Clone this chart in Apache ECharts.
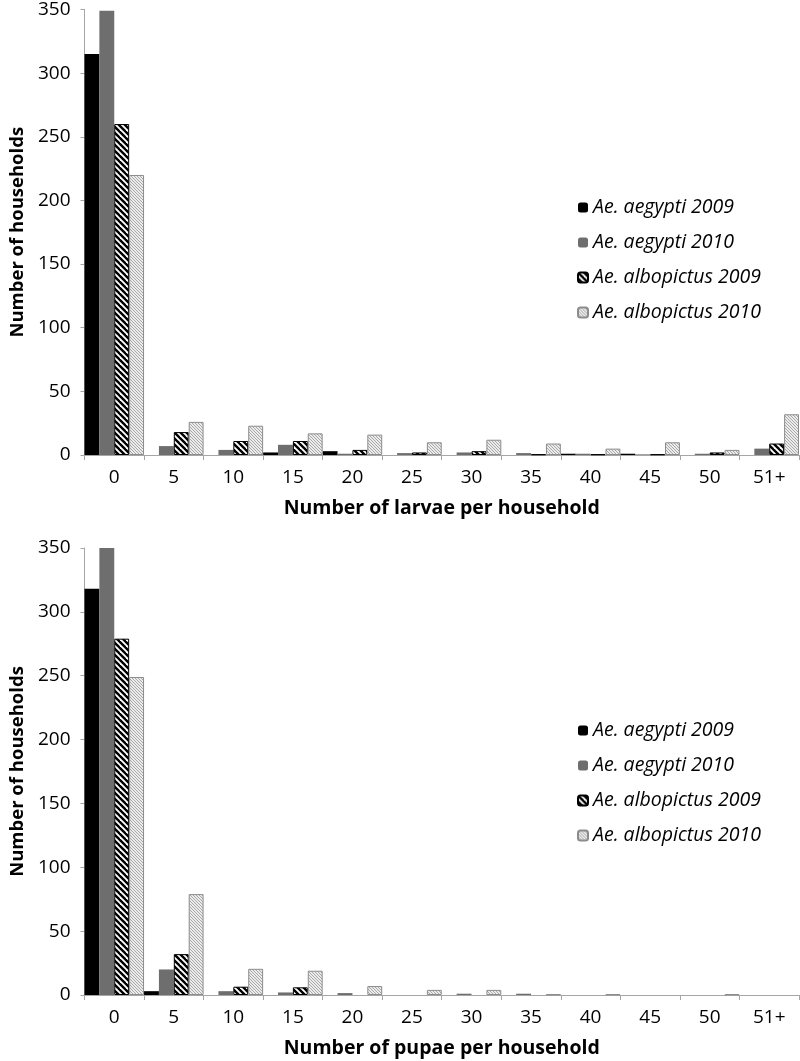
<!DOCTYPE html>
<html>
<head>
<meta charset="utf-8">
<script src="https://cdn.jsdelivr.net/npm/echarts@6/dist/echarts.min.js"></script>
<style>
html,body{margin:0;padding:0;background:#fff;}
#chart{width:800px;height:1061px;}
</style>
</head>
<body>
<div id="chart"></div>
<script>
// ---- data ----
const categories = ['0','5','10','15','20','25','30','35','40','45','50','51+'];
const seriesNames = ['Ae. aegypti 2009','Ae. aegypti 2010','Ae. albopictus 2009','Ae. albopictus 2010'];
const larvaeAegypti2009    = [315, 0, 0, 2, 3, 0, 0, 0, 1, 1, 0, 0];
const larvaeAegypti2010    = [349, 7, 4, 8, 1, 1.5, 2, 1.5, 1, 0.5, 1, 5];
const larvaeAlbopictus2009 = [260, 18, 11, 11, 4, 2, 3, 0.5, 0.5, 0.5, 2, 9];
const larvaeAlbopictus2010 = [220, 26, 23, 17, 16, 10, 12, 9, 5, 10, 4, 32];
const pupaeAegypti2009     = [318, 3, 0, 0, 0, 0, 0, 0, 0, 0, 0, 0];
const pupaeAegypti2010     = [350, 20, 3, 2, 1.5, 0, 1, 1, 0, 0, 0, 0];
const pupaeAlbopictus2009  = [279, 32, 6.5, 6, 0, 0, 0, 0, 0, 0, 0, 0];
const pupaeAlbopictus2010  = [249, 79, 20.5, 19, 7, 4, 4, 0.5, 0.5, 0, 0.5, 0];
const yTicks = [0, 50, 100, 150, 200, 250, 300, 350];

// ---- patterns ----
function hatch(size, bg, fg, lw) {
  const c = document.createElement('canvas');
  c.width = size; c.height = size;
  const g = c.getContext('2d');
  g.fillStyle = bg; g.fillRect(0, 0, size, size);
  g.strokeStyle = fg; g.lineWidth = lw;
  for (let k = -1; k <= 1; k++) {
    g.beginPath();
    g.moveTo(k * size - 1, -1);
    g.lineTo(k * size + size + 1, size + 1);
    g.stroke();
  }
  return c;
}
const darkHatch = { image: hatch(6, '#ffffff', '#000000', 2.4), repeat: 'repeat' };
const lightHatch = { image: hatch(3, '#ececec', '#a8a8a8', 1), repeat: 'repeat' };

const FONT = '"Open Sans", Lato, sans-serif';

const styles = [
  { color: '#000000' },
  { color: '#6e6e6e' },
  { color: darkHatch, borderColor: '#000000', borderWidth: 1 },
  { color: lightHatch, borderColor: '#8c8c8c', borderWidth: 1 }
];

function mkSeries(idx, arrs) {
  return arrs.map((d, i) => ({
    name: seriesNames[i],
    type: 'bar',
    xAxisIndex: idx, yAxisIndex: idx,
    data: d.map(v => (v === 0 ? null : v)),
    barGap: '0%',
    barCategoryGap: '0%',
    itemStyle: styles[i],
    emphasis: { disabled: true },
    animation: false
  }));
}

const axisLineStyle = { color: '#a6a6a6', width: 1 };

function xAxis(idx, name) {
  return {
    type: 'category', gridIndex: idx, data: categories,
    name: name, nameLocation: 'middle', nameGap: 43,
    nameTextStyle: { fontFamily: FONT, fontSize: 19.5, fontWeight: 'bold', color: '#000' },
    axisLine: { lineStyle: axisLineStyle },
    axisTick: { show: true, length: 5, lineStyle: axisLineStyle, alignWithLabel: false },
    axisLabel: { fontFamily: FONT, fontSize: 19, color: '#000', margin: 13 },
    splitLine: { show: false }
  };
}
function yAxis(idx) {
  return {
    type: 'value', gridIndex: idx, min: 0, max: 350, interval: 50,
    name: 'Number of households', nameLocation: 'middle', nameGap: 56,
    nameTextStyle: { fontFamily: FONT, fontSize: 18.5, fontWeight: 'bold', color: '#000' },
    axisLine: { show: true, lineStyle: axisLineStyle },
    axisTick: { show: true, length: 4, lineStyle: axisLineStyle },
    axisLabel: { fontFamily: FONT, fontSize: 19, color: '#000', margin: 14,
      formatter: v => yTicks.includes(v) ? String(v) : '' },
    splitLine: { show: false }
  };
}

function legend(top) {
  return {
    orient: 'vertical', left: 577, top: top,
    itemWidth: 10, itemHeight: 10, itemGap: 14, padding: 0,
    selectedMode: false,
    data: seriesNames,
    textStyle: { fontFamily: FONT, fontSize: 19.5, lineHeight: 21, fontStyle: 'italic', color: '#000' }
  };
}

const option = {
  animation: false,
  backgroundColor: '#ffffff',
  grid: [
    { left: 80, right: 1, top: 9, height: 446 },
    { left: 80, right: 1, top: 548, height: 447 }
  ],
  legend: [legend(197), legend(720)],
  xAxis: [xAxis(0, 'Number of larvae per household'), xAxis(1, 'Number of pupae per household')],
  yAxis: [yAxis(0), yAxis(1)],
  series: [
    ...mkSeries(0, [larvaeAegypti2009, larvaeAegypti2010, larvaeAlbopictus2009, larvaeAlbopictus2010]),
    ...mkSeries(1, [pupaeAegypti2009, pupaeAegypti2010, pupaeAlbopictus2009, pupaeAlbopictus2010])
  ]
};

const chart = echarts.init(document.getElementById('chart'), null, { renderer: 'canvas' });
chart.setOption(option);
</script>
</body>
</html>
